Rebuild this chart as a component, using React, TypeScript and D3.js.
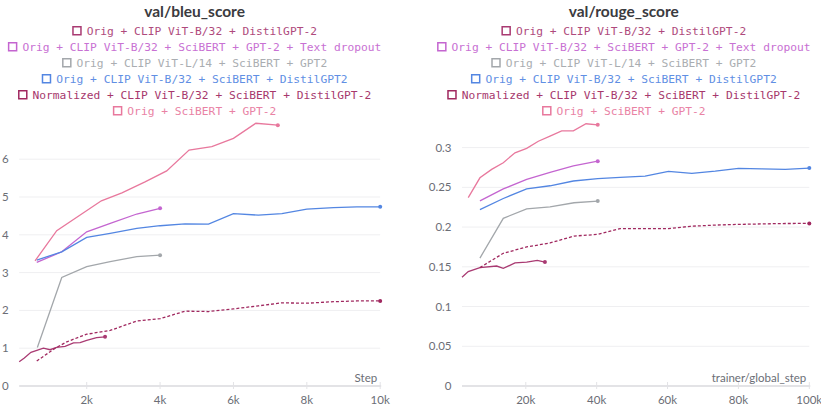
import React from "react";
import * as d3 from "d3";

type Pt = [number, number];

const seriesNames = [
  "Orig + CLIP ViT-B/32 + DistilGPT-2",
  "Orig + CLIP ViT-B/32 + SciBERT + GPT-2 + Text dropout",
  "Orig + CLIP ViT-L/14 + SciBERT + GPT2",
  "Orig + CLIP ViT-B/32 + SciBERT + DistilGPT2",
  "Normalized + CLIP ViT-B/32 + SciBERT + DistilGPT-2",
  "Orig + SciBERT + GPT-2",
];
const seriesColors = ["#a93a72", "#c465d0", "#a3a7ab", "#5386e2", "#a0285f", "#e8789d"];
const seriesDashed = [false, false, false, false, true, false];

// val/bleu_score
const bleuTicksY = [0, 1, 2, 3, 4, 5, 6];
const bleuTicksX = [2000, 4000, 6000, 8000, 10000];
const bleuDistil: Pt[] = [[160, 0.64], [300, 0.74], [480, 0.89], [820, 1.0], [1000, 0.96], [1180, 1.02], [1410, 1.05], [1640, 1.14], [1820, 1.15], [2000, 1.21], [2270, 1.28], [2500, 1.3]];
const bleuDropout: Pt[] = [[638, 3.27], [1320, 3.55], [2000, 4.08], [2700, 4.32], [3365, 4.55], [4000, 4.7]];
const bleuL14: Pt[] = [[655, 1.02], [1320, 2.87], [2000, 3.16], [2640, 3.29], [3365, 3.42], [4000, 3.46]];
const bleuB32: Pt[] = [[638, 3.33], [1320, 3.55], [2000, 3.93], [2640, 4.04], [3365, 4.17], [4000, 4.24], [4680, 4.29], [5320, 4.28], [6000, 4.56], [6680, 4.52], [7320, 4.56], [8000, 4.68], [8730, 4.72], [9365, 4.74], [10000, 4.74]];
const bleuNorm: Pt[] = [[638, 0.66], [1140, 1.0], [1460, 1.17], [2000, 1.37], [2640, 1.47], [3365, 1.72], [4000, 1.78], [4680, 1.98], [5320, 1.97], [6000, 2.04], [6680, 2.12], [7320, 2.2], [8000, 2.19], [8730, 2.23], [9365, 2.25], [10000, 2.25]];
const bleuPink: Pt[] = [[592, 3.31], [1183, 4.11], [2400, 4.9], [2960, 5.11], [3590, 5.4], [4180, 5.69], [4790, 6.24], [5410, 6.33], [6000, 6.55], [6610, 6.95], [7210, 6.9]];

// val/rouge_score
const rougeTicksY = [0, 0.05, 0.1, 0.15, 0.2, 0.25, 0.3];
const rougeTicksX = [20000, 40000, 60000, 80000, 100000];
const rougeDistil: Pt[] = [[2000, 0.137], [3760, 0.144], [7060, 0.149], [11780, 0.151], [13650, 0.148], [16950, 0.155], [20250, 0.156], [23250, 0.158], [25400, 0.156]];
const rougeDropout: Pt[] = [[7060, 0.233], [13650, 0.248], [20250, 0.26], [26840, 0.269], [33420, 0.277], [40300, 0.283]];
const rougeL14: Pt[] = [[7060, 0.161], [13650, 0.211], [20250, 0.223], [26840, 0.2255], [33620, 0.2306], [40300, 0.2327]];
const rougeB32: Pt[] = [[7060, 0.222], [13650, 0.236], [20250, 0.248], [26840, 0.252], [33420, 0.258], [40300, 0.261], [46600, 0.2625], [53670, 0.264], [60250, 0.27], [66860, 0.2675], [73450, 0.2704], [80030, 0.274], [86630, 0.2733], [93220, 0.2725], [100000, 0.2742]];
const rougeNorm: Pt[] = [[7060, 0.149], [13650, 0.167], [20250, 0.175], [26840, 0.18], [33620, 0.1887], [40300, 0.1908], [46600, 0.198], [53670, 0.198], [60250, 0.198], [66400, 0.201], [73450, 0.2025], [80030, 0.2034], [86630, 0.204], [93220, 0.2045], [100000, 0.2046]];
const rougePink: Pt[] = [[3760, 0.237], [7060, 0.262], [10370, 0.2726], [13650, 0.281], [16950, 0.2935], [20250, 0.299], [23540, 0.308], [26840, 0.3145], [30130, 0.321], [33420, 0.321], [37000, 0.33], [40300, 0.3287]];

const bleuSeries = [bleuDistil, bleuDropout, bleuL14, bleuB32, bleuNorm, bleuPink];
const rougeSeries = [rougeDistil, rougeDropout, rougeL14, rougeB32, rougeNorm, rougePink];

const SANS = "Lato, 'Open Sans', sans-serif";
const MONO = "'DejaVu Sans Mono', monospace";
const MONO_SIZE = 11.25;
const CHAR_W = MONO_SIZE * 0.602;

interface ChartProps {
  title: string;
  cx: number;
  series: Pt[][];
  xDomain: [number, number];
  xRange: [number, number];
  yDomain: [number, number];
  ticksX: number[];
  ticksY: number[];
  xLabel: string;
  yFmt: (v: number) => string;
}

function Chart(p: ChartProps) {
  const x = d3.scaleLinear().domain(p.xDomain).range(p.xRange);
  const y = d3.scaleLinear().domain(p.yDomain).range([386, 121.4]);
  const line = d3.line<Pt>().x((d) => x(d[0])).y((d) => y(d[1]));
  const [x0, x1] = p.xRange;
  const fmtK = (v: number) => `${v / 1000}k`;
  return (
    <g>
      <text x={p.cx} y={17} textAnchor="middle" fontFamily={SANS} fontWeight={700} fontSize={15.5} fill="#3b3b40">
        {p.title}
      </text>
      {seriesNames.map((n, i) => {
        const tw = n.length * CHAR_W;
        const total = 9 + 5.5 + tw;
        const sx = p.cx - total / 2;
        return (
          <g key={n} transform={`translate(0,${31 + i * 16})`}>
            <rect x={sx + 0.75} y={-4.25} width={8} height={8} fill="none" stroke={seriesColors[i]} strokeWidth={1.5} />
            <text x={sx + 14.5} y={0} dy="0.35em" fontFamily={MONO} fontSize={MONO_SIZE} fill={seriesColors[i]} opacity={0.92}>
              {n}
            </text>
          </g>
        );
      })}
      {p.ticksY.map((t) => (
        <g key={t}>
          {t !== 0 && <line x1={x0} x2={x1} y1={y(t)} y2={y(t)} stroke="#efeff1" strokeWidth={1} />}
          <text x={x0 - 10.5} y={y(t)} dy="0.35em" textAnchor="end" fontFamily={SANS} fontSize={11.5} fill="#6b6e76">
            {p.yFmt(t)}
          </text>
        </g>
      ))}
      <line x1={x0} x2={x1 + 1} y1={386} y2={386} stroke="#e3e3e6" strokeWidth={2} />
      {p.ticksX.map((t) => (
        <g key={t}>
          <line x1={x(t)} x2={x(t)} y1={382} y2={389} stroke="#e3e3e6" strokeWidth={1} />
          <text x={x(t)} y={403.5} textAnchor="middle" fontFamily={SANS} fontSize={11.5} fill="#6b6e76">
            {fmtK(t)}
          </text>
        </g>
      ))}
      <text x={x1 - 3} y={378} dy="0.35em" textAnchor="end" fontFamily={SANS} fontSize={11.5} fill="#6b6e76">
        {p.xLabel}
      </text>
      {p.series.map((s, i) => (
        <g key={i}>
          <path d={line(s) || ""} fill="none" stroke={seriesColors[i]} strokeWidth={1.3} strokeDasharray={seriesDashed[i] ? "3,2" : undefined} />
          <circle cx={x(s[s.length - 1][0])} cy={y(s[s.length - 1][1])} r={2} fill={seriesColors[i]} />
        </g>
      ))}
    </g>
  );
}

export default function App() {
  return (
    <svg width={821} height={404} style={{ position: "absolute", left: 0, top: 0, background: "#fff" }}>
      <Chart
        title="val/bleu_score"
        cx={194.6}
        series={bleuSeries}
        xDomain={[160, 10000]}
        xRange={[19.2, 380.2]}
        yDomain={[0, 7]}
        ticksX={bleuTicksX}
        ticksY={bleuTicksY}
        xLabel="Step"
        yFmt={(v) => `${v}`}
      />
      <Chart
        title="val/rouge_score"
        cx={623.8}
        series={rougeSeries}
        xDomain={[2000, 100000]}
        xRange={[462, 809.3]}
        yDomain={[0, 0.333]}
        ticksX={rougeTicksX}
        ticksY={rougeTicksY}
        xLabel="trainer/global_step"
        yFmt={(v) => `${v}`}
      />
    </svg>
  );
}
